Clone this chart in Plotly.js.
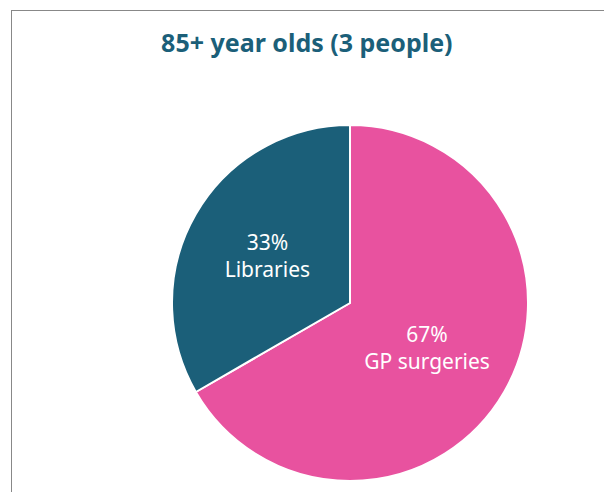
<!DOCTYPE html>
<html>
<head>
<meta charset="utf-8">
<script src="https://cdn.plot.ly/plotly-3.0.1.min.js"></script>
<style>
html,body{margin:0;padding:0;background:#fff;}
#wrap{position:relative;width:604px;height:492px;}
#chart{width:604px;height:492px;}
#frame{position:absolute;left:11px;top:10px;width:593px;height:482px;border-left:1px solid #888;border-top:1px solid #888;pointer-events:none;}
</style>
</head>
<body>
<div id="wrap"><div id="chart"></div><div id="frame"></div></div>
<script>
const categories = ["GP surgeries", "Libraries"];
const counts = [2, 1];
const colors = ["#E8529F", "#1B5F79"];
const chartTitle = "85+ year olds (3 people)";

Plotly.newPlot("chart", [{
  type: "pie",
  labels: categories,
  values: counts,
  sort: false,
  direction: "clockwise",
  rotation: 0,
  marker: {colors: colors, line: {color: "#ffffff", width: 2}},
  texttemplate: "%{percent:.0%}<br>%{label}",
  textposition: "inside",
  insidetextorientation: "horizontal",
  insidetextfont: {color: "#ffffff", size: 21, family: "Noto Sans"},
  hoverinfo: "none",
  showlegend: false
}], {
  width: 604, height: 492,
  margin: {l: 172, r: 76, t: 125, b: 11},
  paper_bgcolor: "#ffffff",
  title: {
    text: "<b>" + chartTitle + "</b>",
    font: {family: "Noto Sans", size: 25, color: "#1B5F79"},
    xref: "container", x: 0.508, xanchor: "center",
    yref: "container", y: 0.913, yanchor: "middle"
  }
}, {staticPlot: true});
</script>
</body>
</html>
